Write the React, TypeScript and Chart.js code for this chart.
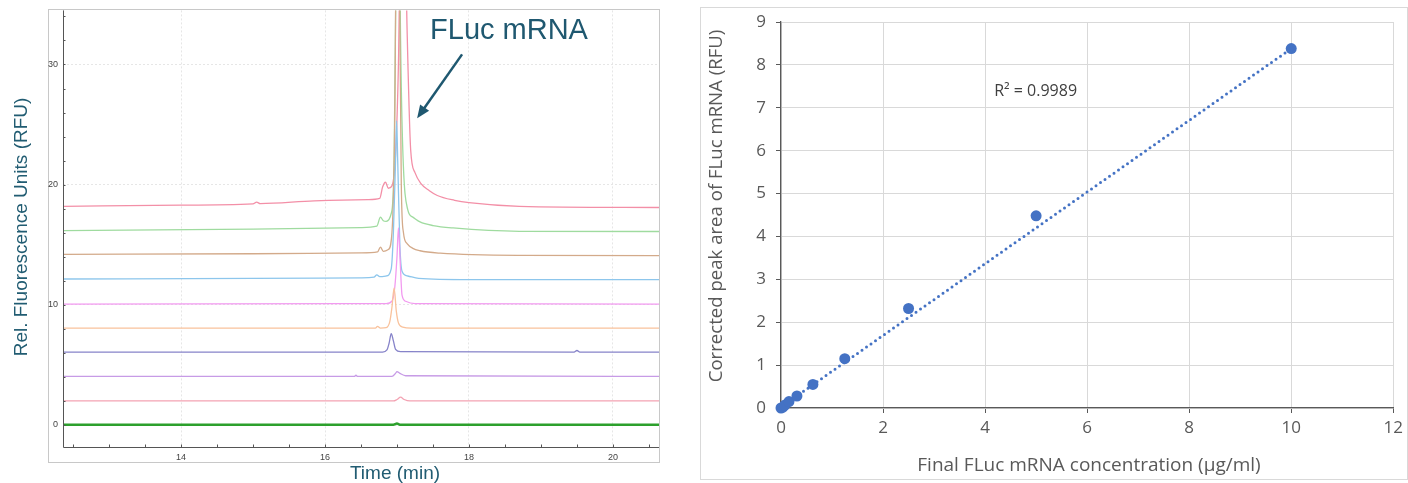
import React, { useEffect, useRef } from "react";
import { Chart, registerables } from "chart.js";
Chart.register(...registerables);

// ---------------- Left panel: electropherogram ----------------
const timeMin = 12.36;
const timeMax = 20.64;
const rfuMin = -1.83;
const rfuMax = 34.5;
const timeTicks = [14, 16, 18, 20];
const rfuTicks = [0, 10, 20, 30];
const timeMinorTicks = [12.5, 13, 13.5, 14, 14.5, 15, 15.5, 16, 16.5, 17, 17.5, 18, 18.5, 19, 19.5, 20, 20.5];
const rfuMinorTicks = [0, 2, 4, 6, 8, 10, 12, 14, 16, 18, 20, 22, 24, 26, 28, 30, 32, 34];

type Pt = [number, number];

const trace0: Pt[] = [[12.36, 0.03], [14, 0.03], [16, 0.03], [16.95, 0.03], [17.0, 0.12], [17.04, 0.03], [18, 0.03], [20.64, 0.03]];
const trace2: Pt[] = [[12.36, 2.0], [16.95, 2.0], [17.0, 2.12], [17.05, 2.32], [17.1, 2.12], [17.18, 2.0], [20.64, 2.0]];
const trace4: Pt[] = [[12.36, 4.05], [16.41, 4.05], [16.43, 4.15], [16.45, 4.05], [16.93, 4.05], [16.98, 4.3], [17.0, 4.45], [17.04, 4.3], [17.12, 4.1], [20.64, 4.05]];
const trace6: Pt[] = [[12.36, 6.07], [16.8, 6.07], [16.86, 6.25], [16.89, 6.8], [16.92, 7.6], [16.95, 7.0], [16.98, 6.3], [17.05, 6.1], [19.46, 6.07], [19.5, 6.2], [19.54, 6.07], [20.64, 6.07]];
const trace8: Pt[] = [[12.36, 8.07], [16.7, 8.07], [16.73, 8.2], [16.77, 8.07], [16.85, 8.1], [16.9, 8.6], [16.93, 9.8], [16.96, 11.4], [16.99, 9.5], [17.02, 8.5], [17.08, 8.15], [17.2, 8.07], [20.64, 8.07]];
const trace10: Pt[] = [[12.36, 10.06], [16.85, 10.1], [16.93, 10.3], [16.97, 11.5], [17.0, 14], [17.02, 16.4], [17.045, 13.5], [17.07, 10.8], [17.12, 10.3], [17.25, 10.1], [20.64, 10.06]];
const trace12: Pt[] = [[12.36, 12.15], [15, 12.2], [16.5, 12.25], [16.68, 12.3], [16.72, 12.5], [16.76, 12.35], [16.85, 12.4], [16.92, 13], [16.95, 16], [16.98, 22], [16.995, 25.3], [17.01, 22], [17.04, 15], [17.07, 12.8], [17.15, 12.4], [17.3, 12.2], [18, 12.1], [20.64, 12.1]];
const trace14: Pt[] = [[12.36, 14.2], [15, 14.25], [16.5, 14.32], [16.73, 14.4], [16.77, 14.8], [16.81, 14.45], [16.88, 14.6], [16.93, 16], [16.97, 26], [17.0, 48], [17.03, 40], [17.06, 20], [17.09, 16], [17.14, 15.1], [17.22, 14.7], [17.32, 14.5], [17.6, 14.3], [18.7, 14.12], [20.64, 14.1]];
const trace16: Pt[] = [[12.36, 16.18], [15, 16.3], [16.5, 16.43], [16.72, 16.55], [16.77, 17.3], [16.81, 17.0], [16.85, 16.95], [16.92, 17.6], [16.96, 22], [16.99, 40], [17.02, 50], [17.05, 32], [17.08, 23], [17.15, 17.9], [17.22, 17.3], [17.32, 16.9], [17.5, 16.6], [17.78, 16.4], [18.7, 16.12], [20.64, 16.1]];
const trace18: Pt[] = [[12.36, 18.2], [14, 18.3], [15, 18.4], [15.05, 18.55], [15.1, 18.42], [15.85, 18.65], [16.6, 18.75], [16.76, 18.85], [16.8, 19.8], [16.84, 20.2], [16.88, 19.7], [16.93, 19.9], [16.98, 22.5], [17.02, 30], [17.06, 45], [17.1, 45], [17.14, 33], [17.19, 22.9], [17.25, 21.0], [17.33, 20.1], [17.45, 19.5], [17.56, 19.1], [17.8, 18.7], [18.0, 18.5], [18.7, 18.2], [20.64, 18.1]];

const traces: Pt[][] = [trace0, trace2, trace4, trace6, trace8, trace10, trace12, trace14, trace16, trace18];
const traceColors = ["#2ca02c", "#f3a3b3", "#c79be6", "#8683c9", "#f9c29c", "#f29af0", "#8dc6ec", "#d3aa8a", "#9fdb9f", "#f38fa7"];
const traceWidths = [2.5, 1.3, 1.3, 1.3, 1.3, 1.3, 1.3, 1.3, 1.3, 1.3];

const peakLabel = "FLuc mRNA";
const peakLabelPos: Pt = [18.556, 32.75];
const arrowTail: Pt = [17.904, 30.84];
const arrowTip: Pt = [17.28, 25.52];

// ---------------- Right panel: calibration ----------------
const concentration = [0, 0.039, 0.078, 0.156, 0.3125, 0.625, 1.25, 2.5, 5, 10];
const peakArea = [0, 0.02, 0.07, 0.15, 0.28, 0.55, 1.15, 2.32, 4.48, 8.38];
const trendX = [0, 10];
const trendY = [0.02, 8.38];
const rSquaredText = "R² = 0.9989";
const rSquaredPos: Pt = [4.99, 7.38];

const TEAL = "#215c72";

function LeftChart() {
  const ref = useRef<HTMLCanvasElement | null>(null);
  useEffect(() => {
    if (!ref.current) return;
    const decor = {
      id: "leftDecor",
      beforeDraw(chart: any) {
        const { ctx } = chart;
        ctx.save();
        ctx.strokeStyle = "#c8c8c8";
        ctx.lineWidth = 1;
        ctx.strokeRect(48.5, 9.5, 611, 453);
        ctx.restore();
      },
      afterDraw(chart: any) {
        const { ctx, chartArea: a, scales } = chart;
        const x = scales.x;
        const y = scales.y;
        ctx.save();
        // solid axis lines
        ctx.strokeStyle = "#555";
        ctx.lineWidth = 1;
        ctx.beginPath();
        ctx.moveTo(Math.round(a.left) + 0.5, a.top);
        ctx.lineTo(Math.round(a.left) + 0.5, Math.round(a.bottom) + 0.5);
        ctx.lineTo(a.right, Math.round(a.bottom) + 0.5);
        ctx.stroke();
        timeMinorTicks.forEach((v) => {
          const px = Math.round(x.getPixelForValue(v)) + 0.5;
          ctx.beginPath();
          ctx.moveTo(px, a.bottom);
          ctx.lineTo(px, a.bottom - 2.5);
          ctx.stroke();
        });
        rfuMinorTicks.forEach((v) => {
          const py = Math.round(y.getPixelForValue(v)) + 0.5;
          ctx.beginPath();
          ctx.moveTo(a.left, py);
          ctx.lineTo(a.left + 2.5, py);
          ctx.stroke();
        });
        // axis titles
        ctx.fillStyle = TEAL;
        ctx.font = "19px 'Liberation Sans', Arial, sans-serif";
        ctx.textAlign = "center";
        ctx.textBaseline = "middle";
        ctx.fillText("Time (min)", 395, 474);
        ctx.save();
        ctx.translate(22, 227);
        ctx.rotate(-Math.PI / 2);
        ctx.fillText("Rel. Fluorescence Units (RFU)", 0, 0);
        ctx.restore();
        // annotation
        ctx.font = "29px 'Liberation Sans', Arial, sans-serif";
        ctx.fillStyle = "#1f5870";
        ctx.fillText(peakLabel, x.getPixelForValue(peakLabelPos[0]), y.getPixelForValue(peakLabelPos[1]));
        const tx = x.getPixelForValue(arrowTail[0]);
        const ty = y.getPixelForValue(arrowTail[1]);
        const hx = x.getPixelForValue(arrowTip[0]);
        const hy = y.getPixelForValue(arrowTip[1]);
        const ang = Math.atan2(hy - ty, hx - tx);
        const headLen = 13;
        const headW = 5.5;
        ctx.strokeStyle = "#1f5870";
        ctx.lineWidth = 2.5;
        ctx.beginPath();
        ctx.moveTo(tx, ty);
        ctx.lineTo(hx - Math.cos(ang) * headLen * 0.8, hy - Math.sin(ang) * headLen * 0.8);
        ctx.stroke();
        ctx.fillStyle = "#1f5870";
        ctx.beginPath();
        ctx.moveTo(hx, hy);
        ctx.lineTo(hx - Math.cos(ang) * headLen - Math.sin(ang) * headW, hy - Math.sin(ang) * headLen + Math.cos(ang) * headW);
        ctx.lineTo(hx - Math.cos(ang) * headLen + Math.sin(ang) * headW, hy - Math.sin(ang) * headLen - Math.cos(ang) * headW);
        ctx.closePath();
        ctx.fill();
        ctx.restore();
      },
    };
    const chart = new Chart(ref.current, {
      type: "line",
      data: {
        datasets: traces.map((tr, i) => ({
          data: tr.map(([t, v]) => ({ x: t, y: v })),
          borderColor: traceColors[i],
          borderWidth: traceWidths[i],
          pointRadius: 0,
          fill: false,
          cubicInterpolationMode: "monotone" as const,
        })),
      },
      options: {
        animation: false,
        responsive: false,
        maintainAspectRatio: false,
        layout: { padding: { left: 0, right: 21, top: 10, bottom: 0 } },
        plugins: { legend: { display: false }, tooltip: { enabled: false } },
        scales: {
          x: {
            type: "linear",
            min: timeMin,
            max: timeMax,
            afterBuildTicks: (s: any) => {
              s.ticks = timeTicks.map((v) => ({ value: v }));
            },
            afterFit: (s: any) => {
              s.height = 36;
            },
            grid: { color: "#e6e6e6", drawTicks: false, lineWidth: 1 },
            border: { display: false, dash: [2, 2] },
            ticks: { color: "#444", font: { family: "'Liberation Sans', Arial", size: 9 }, padding: 5, maxRotation: 0 },
          },
          y: {
            type: "linear",
            min: rfuMin,
            max: rfuMax,
            afterBuildTicks: (s: any) => {
              s.ticks = rfuTicks.map((v) => ({ value: v }));
            },
            afterFit: (s: any) => {
              s.width = 63;
            },
            grid: { color: "#e6e6e6", drawTicks: false, lineWidth: 1 },
            border: { display: false, dash: [2, 2] },
            ticks: { color: "#444", font: { family: "'Liberation Sans', Arial", size: 9 }, padding: 5 },
          },
        },
      },
      plugins: [decor],
    } as any);
    return () => chart.destroy();
  }, []);
  return <canvas ref={ref} width={680} height={483} style={{ position: "absolute", left: 0, top: 0, width: 680, height: 483 }} />;
}

function RightChart() {
  const ref = useRef<HTMLCanvasElement | null>(null);
  useEffect(() => {
    if (!ref.current) return;
    const decor = {
      id: "rightDecor",
      beforeDraw(chart: any) {
        const { ctx } = chart;
        ctx.save();
        ctx.strokeStyle = "#d9d9d9";
        ctx.lineWidth = 1;
        ctx.strokeRect(0.5, 7.5, 707, 472);
        ctx.restore();
      },
      afterDraw(chart: any) {
        const { ctx, scales } = chart;
        ctx.save();
        ctx.fillStyle = "#595959";
        ctx.font = "19px 'Open Sans', sans-serif";
        ctx.textAlign = "center";
        ctx.textBaseline = "middle";
        ctx.fillText("Final FLuc mRNA concentration (µg/ml)", 389, 466);
        ctx.save();
        ctx.translate(17, 206);
        ctx.rotate(-Math.PI / 2);
        ctx.font = "18.6px 'Open Sans', sans-serif";
        ctx.fillText("Corrected peak area of FLuc mRNA (RFU)", 0, 0);
        ctx.restore();
        ctx.fillStyle = "#404040";
        ctx.font = "16px 'Open Sans', sans-serif";
        ctx.fillText(rSquaredText, scales.x.getPixelForValue(rSquaredPos[0]), scales.y.getPixelForValue(rSquaredPos[1]));
        ctx.restore();
      },
    };
    const chart = new Chart(ref.current, {
      type: "scatter",
      data: {
        datasets: [
          {
            data: concentration.map((c, i) => ({ x: c, y: peakArea[i] })),
            backgroundColor: "#4472c4",
            borderWidth: 0,
            pointRadius: 5.5,
            clip: false,
            order: 0,
          },
          {
            data: trendX.map((c, i) => ({ x: c, y: trendY[i] })),
            showLine: true,
            borderColor: "#4472c4",
            borderWidth: 3,
            borderDash: [0, 5.5],
            borderCapStyle: "round",
            pointRadius: 0,
            clip: false,
            order: 1,
          },
        ],
      },
      options: {
        animation: false,
        responsive: false,
        maintainAspectRatio: false,
        layout: { padding: { left: 0, right: 14, top: 22, bottom: 0 } },
        plugins: { legend: { display: false }, tooltip: { enabled: false } },
        scales: {
          x: {
            type: "linear",
            min: 0,
            max: 12,
            afterFit: (s: any) => {
              s.height = 75;
            },
            grid: { color: "#d9d9d9", lineWidth: 1, drawTicks: true, tickLength: 5, tickColor: "#595959" },
            border: { color: "#595959", width: 1.3 },
            ticks: { stepSize: 2, color: "#595959", font: { family: "'Open Sans', sans-serif", size: 17 }, padding: 5, maxRotation: 0 },
          },
          y: {
            type: "linear",
            min: 0,
            max: 9,
            afterFit: (s: any) => {
              s.width = 81;
            },
            grid: { color: "#d9d9d9", lineWidth: 1, drawTicks: true, tickLength: 5, tickColor: "#595959" },
            border: { color: "#595959", width: 1.3 },
            ticks: { stepSize: 1, color: "#595959", font: { family: "'Open Sans', sans-serif", size: 17 }, padding: 10 },
          },
        },
      },
      plugins: [decor],
    } as any);
    return () => chart.destroy();
  }, []);
  return <canvas ref={ref} width={708} height={483} style={{ position: "absolute", left: 700, top: 0, width: 708, height: 483 }} />;
}

export default function App() {
  return (
    <div style={{ position: "absolute", left: 0, top: 0, width: 1408, height: 483, background: "#fff", overflow: "hidden" }}>
      <LeftChart />
      <RightChart />
    </div>
  );
}
